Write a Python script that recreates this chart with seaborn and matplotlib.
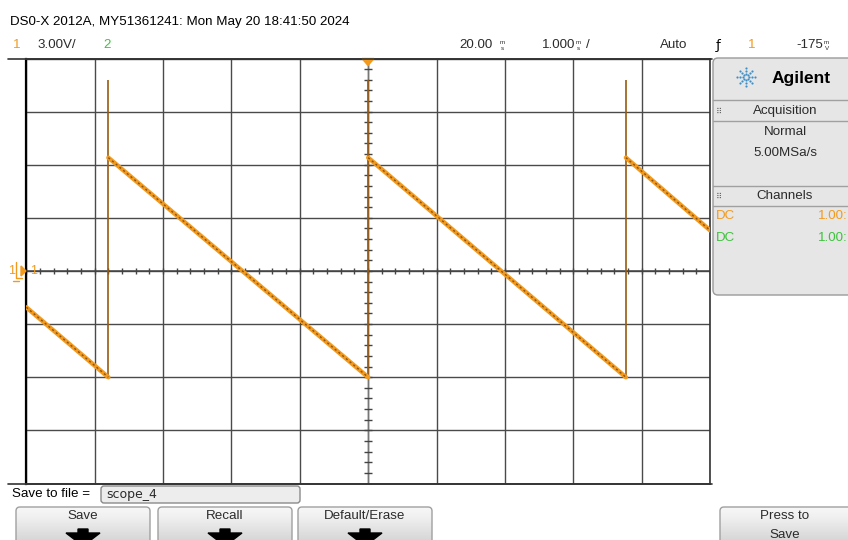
import numpy as np
import pandas as pd
import matplotlib
matplotlib.use("Agg")
import matplotlib.pyplot as plt
import seaborn as sns
from matplotlib.patches import FancyBboxPatch, Polygon

# channel 1 trace (time in ms from trigger, volts)
ramp_t0 = [-5.0, -3.80, 0.0, 3.77]
ramp_v0 = [-2.05, 6.4, 6.4, 6.4]
ramp_t1 = [-3.80, 0.0, 3.77, 5.0]
ramp_v1 = [-6.0, -6.0, -6.0, 2.3]
spike_t = [-3.80, 0.0, 3.77]
spike_lo = [-6.0, -6.0, -6.0]
spike_hi = [10.8, 10.8, 10.8]

volts_per_div = 3.0
ms_per_div = 1.0

title_text = "DS0-X 2012A, MY51361241: Mon May 20 18:41:50 2024"
ORANGE = "#f29a1e"
GREEN = "#3cc23c"
TXT = "#2b2b2b"

sns.set_style("white")
plt.rcParams['font.family'] = ['Liberation Sans', 'DejaVu Sans']

rows = []
for i in range(len(ramp_t0)):
    rows.append({"t": ramp_t0[i], "v": ramp_v0[i], "seg": i})
    rows.append({"t": ramp_t1[i], "v": ramp_v1[i], "seg": i})
df = pd.DataFrame(rows)

fig = plt.figure(figsize=(8.48, 5.40), dpi=100)
W, H = 848, 540
L, R, T, B = 26.3, 710.0, 58.5, 483.5
ax = fig.add_axes([L / W, 1 - B / H, (R - L) / W, (B - T) / H])

ax.set_xlim(-5 * ms_per_div, 5 * ms_per_div)
ax.set_ylim(-4 * volts_per_div, 4 * volts_per_div)
ax.set_xticks(np.arange(-5, 6) * ms_per_div)
ax.set_yticks(np.arange(-4, 5) * volts_per_div)
ax.tick_params(length=0, labelbottom=False, labelleft=False)
ax.grid(True, color="#4a4a4a", lw=1.0)
for s in ax.spines.values():
    s.set_color("#333333")
    s.set_linewidth(1.2)
ax.spines['left'].set_color("black")
ax.spines['left'].set_linewidth(1.6)

# center graticule with minor ticks
ax.axhline(0, color="#444444", lw=1.1, zorder=1)
ax.axvline(0, color="#777777", lw=1.0, zorder=1)
mx = np.arange(-5, 5.01, 0.2) * ms_per_div
my = np.arange(-4, 4.01, 0.2) * volts_per_div
ax.vlines(mx, -0.18, 0.18, color="#444444", lw=1.0, zorder=1)
ax.hlines(my, -0.06, 0.06, color="#444444", lw=1.0, zorder=1)

# trace
ax.vlines(spike_t, spike_lo, spike_hi, color="#9a5a12", lw=1.2, zorder=3)
sns.lineplot(data=df, x="t", y="v", units="seg", estimator=None, sort=False,
             color=ORANGE, lw=3.2, ax=ax, legend=False, zorder=4)
sns.lineplot(data=df, x="t", y="v", units="seg", estimator=None, sort=False,
             color="#8a5210", lw=1.0, ls=(0, (1.5, 2.0)), ax=ax, legend=False, zorder=5)
ax.set_xlabel("")
ax.set_ylabel("")

# overlay in pixel coordinates for the scope UI
ov = fig.add_axes([0, 0, 1, 1], zorder=10)
ov.set_xlim(0, W)
ov.set_ylim(H, 0)
ov.axis("off")
ov.patch.set_alpha(0)

ov.plot([8, 712], [T, T], color="#333333", lw=1.2)
ov.plot([8, 712], [B, B], color="#333333", lw=1.2)

FS = 9.6
ov.text(10, 22, title_text, fontsize=FS, color="black", va="center")
ov.text(13, 45, "1", fontsize=FS, color=ORANGE, va="center")
ov.text(38, 45, "3.00V/", fontsize=FS, color=TXT, va="center")
ov.text(103, 45, "2", fontsize=FS, color=GREEN, va="center")
ov.text(459, 45, "20.00", fontsize=FS, color=TXT, va="center")
ov.text(500, 42, "m", fontsize=4.5, color=TXT, va="center")
ov.text(501, 48, "s", fontsize=4.5, color=TXT, va="center")
ov.text(542, 45, "1.000", fontsize=FS, color=TXT, va="center")
ov.text(576, 42, "m", fontsize=4.5, color=TXT, va="center")
ov.text(577, 48, "s", fontsize=4.5, color=TXT, va="center")
ov.text(586, 45, "/", fontsize=FS, color=TXT, va="center")
ov.text(660, 45, "Auto", fontsize=FS, color=TXT, va="center")
ov.text(716, 45, "ƒ", fontsize=FS, color="black", va="center", family="DejaVu Sans")
ov.text(748, 45, "1", fontsize=FS, color=ORANGE, va="center")
ov.text(796, 45, "-175", fontsize=FS, color=TXT, va="center")
ov.text(824, 42, "m", fontsize=4.5, color=TXT, va="center")
ov.text(825, 48, "V", fontsize=4.5, color=TXT, va="center")

# trigger marker and ground marker
ov.add_patch(Polygon([[362, T], [374, T], [368, T + 7]], closed=True, color=ORANGE))
ov.text(8, 271, "1", fontsize=9, color=ORANGE, va="center")
ov.plot([16, 16, 22], [262, 278, 278], color=ORANGE, lw=1)
ov.plot([13, 19], [281, 281], color=ORANGE, lw=1)
ov.add_patch(Polygon([[21, 266], [21, 276], [26, 271]], closed=True, color=ORANGE))
ov.text(30, 271, "1", fontsize=9, color=ORANGE, va="center")

# right side panel
ov.add_patch(FancyBboxPatch((713, 58), 150, 237, boxstyle="round,pad=0,rounding_size=5",
                            fc="#e6e6e6", ec="#9a9a9a", lw=1))
for yy in [100, 121, 186, 206]:
    ov.plot([713, 848], [yy, yy], color="#a0a0a0", lw=1)
cx, cy = 746, 77
for a in np.arange(0, 360, 45):
    r = np.deg2rad(a)
    for d in [3, 6, 9]:
        ov.scatter(cx + d * np.cos(r), cy + d * np.sin(r), s=2.5, color="#3d8fc9", lw=0)
ov.text(772, 78, "Agilent", fontsize=12.5, fontweight="bold", color="black", va="center")
ov.text(785, 111, "Acquisition", fontsize=FS, color=TXT, va="center", ha="center")
ov.text(785, 132, "Normal", fontsize=FS, color=TXT, va="center", ha="center")
ov.text(785, 153, "5.00MSa/s", fontsize=FS, color=TXT, va="center", ha="center")
ov.text(785, 196, "Channels", fontsize=FS, color=TXT, va="center", ha="center")
for yy in [111, 196]:
    ov.text(716, yy, "⠿", fontsize=6, color="#666666", va="center", family="DejaVu Sans")
ov.text(716, 216, "DC", fontsize=FS, color=ORANGE, va="center")
ov.text(848, 216, "1.00:", fontsize=FS, color=ORANGE, va="center", ha="right")
ov.text(716, 238, "DC", fontsize=FS, color=GREEN, va="center")
ov.text(848, 238, "1.00:", fontsize=FS, color=GREEN, va="center", ha="right")

# bottom softkeys
ov.text(12, 494, "Save to file =", fontsize=FS, color="black", va="center")
ov.add_patch(FancyBboxPatch((101, 486), 199, 17, boxstyle="round,pad=0,rounding_size=3",
                            fc="#ededed", ec="#8a8a8a", lw=1))
ov.text(106, 494.5, "scope_4", fontsize=9, color=TXT, va="center", family="DejaVu Sans")

grad = np.linspace(0, 1, 50).reshape(-1, 1)
buttons = [(16, 134, "Save"), (158, 134, "Recall"), (298, 134, "Default/Erase"), (720, 140, "Press to")]
for bx, bw, lab in buttons:
    p = FancyBboxPatch((bx, 507), bw, 45, boxstyle="round,pad=0,rounding_size=4",
                       fc="none", ec="#a0a0a0", lw=1)
    ov.add_patch(p)
    im = ov.imshow(grad, extent=(bx, bx + bw, 552, 507), cmap="Greys", vmin=-0.25, vmax=3.5,
                   aspect="auto", zorder=0)
    im.set_clip_path(p)
    ov.text(bx + bw / 2 if lab != "Press to" else 785, 516, lab, fontsize=FS, color=TXT,
            va="center", ha="center")
    if lab != "Press to":
        c = bx + bw / 2
        ov.add_patch(Polygon([[c - 5, 529], [c + 5, 529], [c + 5, 533], [c + 17, 533],
                              [c, 546], [c - 17, 533], [c - 5, 533]], closed=True, color="black"))
ov.text(785, 535, "Save", fontsize=FS, color=TXT, va="center", ha="center")
ov.set_xlim(0, W)
ov.set_ylim(H, 0)

fig.savefig("out.png", dpi=100, facecolor="white")
